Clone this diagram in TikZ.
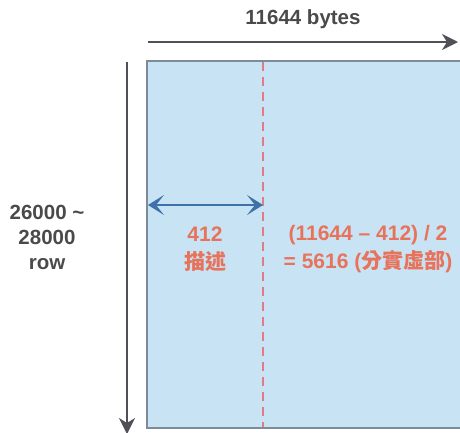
\documentclass[tikz,border=0pt]{standalone}
\usepackage{fontspec}
\setmainfont{Liberation Sans}
\newfontfamily\cjk{Noto Sans CJK TC}
\usetikzlibrary{arrows.meta}
\definecolor{boxfill}{HTML}{C8E4F4}
\definecolor{boxline}{HTML}{7D8C98}
\definecolor{darkarr}{HTML}{505058}
\definecolor{bluearr}{HTML}{3F72AA}
\definecolor{redtxt}{HTML}{E8735C}
\definecolor{reddash}{HTML}{DE7D88}
\definecolor{graytxt}{HTML}{4A4A4A}
\tikzset{
  gtext/.style={text=graytxt,font=\fontsize{20.5}{25}\selectfont\bfseries,align=center,inner sep=0pt},
  rtext/.style={text=redtxt,font=\fontsize{21}{28}\selectfont\bfseries,align=center,inner sep=0pt},
  darrow/.style={draw=darkarr,line width=1.8pt,-{Stealth[length=16pt,width=16pt,inset=5pt]}},
  barrow/.style={draw=bluearr,line width=2pt,{Stealth[length=16pt,width=20pt,inset=8pt]}-{Stealth[length=16pt,width=20pt,inset=8pt]}}
}
\begin{document}
\begin{tikzpicture}[x=1pt,y=-1pt]
\useasboundingbox (0,0) rectangle (460,432);
\begin{scope}
\clip (0,0) rectangle (460,432);
\fill[boxfill] (147,61) rectangle (470,428);
\draw[boxline,line width=2pt] (470,61) -- (147,61) -- (147,428) -- (470,428);
\end{scope}
\coordinate (hs) at (148,42);
\coordinate (he) at (458,42);
\coordinate (vs) at (127,62);
\coordinate (ve) at (127,434);
\coordinate (ds) at (263,62);
\coordinate (de) at (263,427);
\coordinate (bl) at (148,205);
\coordinate (br) at (263,205);
\draw[darrow] (hs) -- (he);
\draw[darrow] (vs) -- (ve);
\draw[reddash,line width=1.3pt,dash pattern=on 9pt off 6pt] (ds) -- (de);
\draw[barrow] (bl) -- (br);
\node[gtext] (title) at (303,19) {11644 bytes};
\node[gtext] (rows) at (47,237) {26000 \char`\~\\28000\\row};
\node[rtext] (a) at (205,249) {412\\{\cjk\bfseries 描述}};
\node[rtext] (b) at (368,249) {(11644 – 412) / 2\\= 5616 ({\cjk\bfseries 分實虛部})};
\end{tikzpicture}
\end{document}
